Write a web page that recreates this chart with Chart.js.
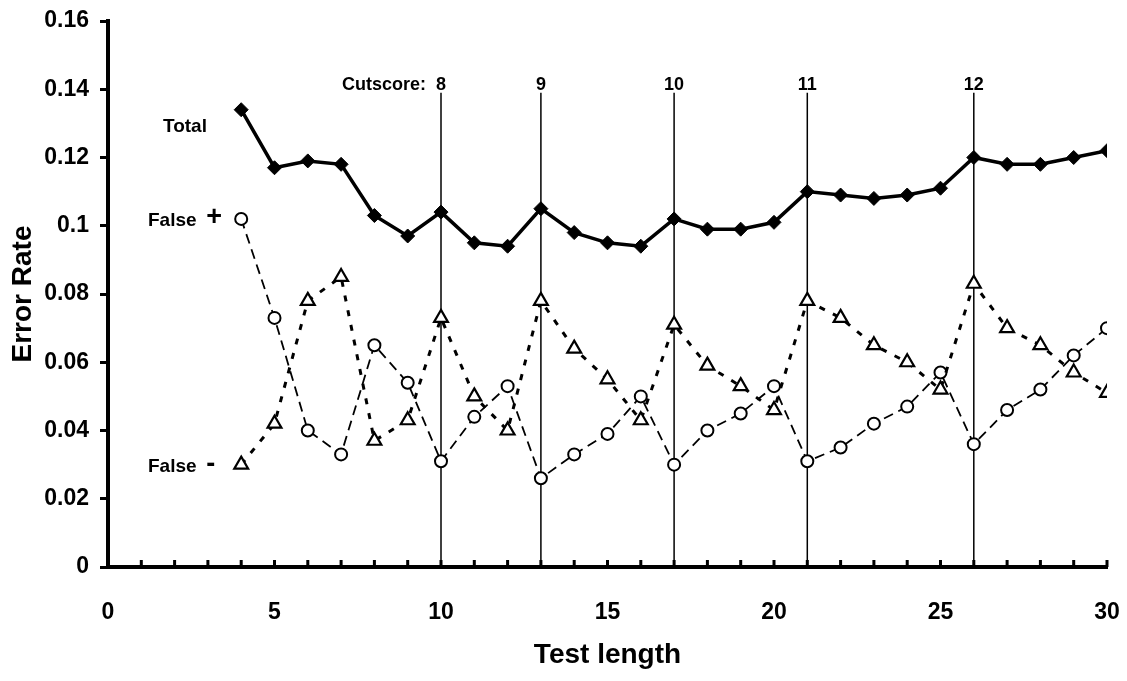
<!DOCTYPE html>
<html>
<head>
<meta charset="utf-8">
<script src="https://cdn.jsdelivr.net/npm/chart.js@4"></script>
<style>
  body { margin: 0; background: #fff; }
  #wrap { width: 1127px; height: 681px; }
</style>
</head>
<body>
<div id="wrap"><canvas id="errChart"></canvas></div>
<script>
// test lengths 4..30
var testLength = [4, 5, 6, 7, 8, 9, 10, 11, 12, 13, 14, 15, 16, 17, 18, 19, 20, 21, 22, 23, 24, 25, 26, 27, 28, 29, 30];

var totalErr = [0.134, 0.117, 0.119, 0.118, 0.103, 0.097, 0.104, 0.095, 0.094, 0.105, 0.098, 0.095, 0.094, 0.102, 0.099, 0.099, 0.101, 0.110, 0.109, 0.108, 0.109, 0.111, 0.120, 0.118, 0.118, 0.120, 0.122];
var falsePos = [0.102, 0.073, 0.040, 0.033, 0.065, 0.054, 0.031, 0.044, 0.053, 0.026, 0.033, 0.039, 0.050, 0.030, 0.040, 0.045, 0.053, 0.031, 0.035, 0.042, 0.047, 0.057, 0.036, 0.046, 0.052, 0.062, 0.070];
var falseNeg = [0.030, 0.042, 0.078, 0.085, 0.037, 0.043, 0.073, 0.050, 0.040, 0.078, 0.064, 0.055, 0.043, 0.071, 0.059, 0.053, 0.046, 0.078, 0.073, 0.065, 0.060, 0.052, 0.083, 0.070, 0.065, 0.057, 0.051];

// cutscore markers
var cutX = [10, 13, 17, 21, 26];
var cutScore = ['8', '9', '10', '11', '12'];
var cutTop = 0.139;

var FONT = '"Liberation Sans", Arial, sans-serif';

function pts(ys) {
    return testLength.map(function (x, i) { return { x: x, y: ys[i] }; });
}

var cutSets = cutX.map(function (x) {
    return {
        label: 'cut' + x,
        data: [{ x: x, y: 0 }, { x: x, y: cutTop }],
        showLine: true,
        borderColor: '#000',
        borderWidth: 1.5,
        pointRadius: 0,
        order: 10
    };
});

var labelsPlugin = {
    id: 'labels',
    afterDatasetsDraw: function (chart) {
        var ctx = chart.ctx;
        var xs = chart.scales.x, ys = chart.scales.y;
        var base = ys.getPixelForValue(0);
        ctx.save();
        ctx.fillStyle = '#000';
        // small inside ticks at each test length
        for (var v = 0; v <= 30; v++) {
            var px = xs.getPixelForValue(v);
            ctx.fillRect(px - 1.5, base - 7, 3, 7);
        }
        ctx.restore();
    },
    afterDraw: function (chart) {
        var ctx = chart.ctx;
        var xs = chart.scales.x, ys = chart.scales.y;
        ctx.save();
        ctx.fillStyle = '#000';
        ctx.textBaseline = 'middle';

        ctx.font = 'bold 18px ' + FONT;
        ctx.textAlign = 'center';
        cutX.forEach(function (x, i) {
            ctx.fillText(cutScore[i], xs.getPixelForValue(x), ys.getPixelForValue(0.1412));
        });
        ctx.textAlign = 'right';
        ctx.fillText('Cutscore:', xs.getPixelForValue(9.55), ys.getPixelForValue(0.1412));

        ctx.textAlign = 'left';
        ctx.font = 'bold 19px ' + FONT;
        ctx.fillText('Total', xs.getPixelForValue(1.65), ys.getPixelForValue(0.129));
        ctx.fillText('False', xs.getPixelForValue(1.2), ys.getPixelForValue(0.1015));
        ctx.fillText('False', xs.getPixelForValue(1.2), ys.getPixelForValue(0.0295));
        ctx.font = 'bold 27px ' + FONT;
        ctx.fillText('+', xs.getPixelForValue(2.95), ys.getPixelForValue(0.1025));
        ctx.fillText('-', xs.getPixelForValue(2.95), ys.getPixelForValue(0.030));
        ctx.restore();
    }
};

var chart = new Chart(document.getElementById('errChart'), {
    type: 'scatter',
    data: {
        datasets: [
            {
                label: 'Total',
                data: pts(totalErr),
                showLine: true,
                borderColor: '#000',
                borderWidth: 3.5,
                pointStyle: 'rectRot',
                pointRadius: 7,
                pointBackgroundColor: '#000',
                pointBorderColor: '#000',
                pointBorderWidth: 1,
                order: 0
            },
            {
                label: 'False +',
                data: pts(falsePos),
                showLine: true,
                borderColor: '#000',
                borderWidth: 1.8,
                borderDash: [10, 6],
                pointStyle: 'circle',
                pointRadius: 6,
                pointBackgroundColor: '#fff',
                pointBorderColor: '#000',
                pointBorderWidth: 2,
                order: 2
            },
            {
                label: 'False -',
                data: pts(falseNeg),
                showLine: true,
                borderColor: '#000',
                borderWidth: 3,
                borderDash: [6, 9],
                pointStyle: 'triangle',
                pointRadius: 8,
                pointBackgroundColor: '#fff',
                pointBorderColor: '#000',
                pointBorderWidth: 2.2,
                order: 1
            }
        ].concat(cutSets)
    },
    options: {
        responsive: true,
        maintainAspectRatio: false,
        animation: false,
        layout: { padding: { top: 21, right: 20, left: 0, bottom: 0 } },
        plugins: {
            legend: { display: false },
            tooltip: { enabled: false }
        },
        scales: {
            x: {
                type: 'linear',
                min: 0,
                max: 30,
                afterFit: function (s) {
                    s.height = 114;
                    s.paddingLeft = 0;
                    s.paddingRight = 0;
                },
                border: { display: true, color: '#000', width: 4 },
                grid: { display: false },
                ticks: {
                    stepSize: 1,
                    autoSkip: false,
                    maxRotation: 0,
                    padding: 24,
                    color: '#000',
                    font: { family: FONT, size: 23, weight: 'bold' },
                    callback: function (v) { return v % 5 === 0 ? String(v) : ''; }
                },
                title: {
                    display: true,
                    text: 'Test length',
                    color: '#000',
                    padding: { top: 0, bottom: 9 },
                    font: { family: FONT, size: 28, weight: 'bold' }
                }
            },
            y: {
                min: 0,
                max: 0.16,
                afterFit: function (s) {
                    s.width = 108;
                    s.paddingTop = 0;
                    s.paddingBottom = 0;
                },
                border: { display: true, color: '#000', width: 4 },
                grid: {
                    drawOnChartArea: false,
                    tickLength: 8,
                    tickWidth: 3,
                    tickColor: '#000'
                },
                ticks: {
                    stepSize: 0.02,
                    padding: 11,
                    color: '#000',
                    font: { family: FONT, size: 23, weight: 'bold' },
                    callback: function (v) { return String(Math.round(v * 100) / 100); }
                },
                title: {
                    display: true,
                    text: 'Error Rate',
                    color: '#000',
                    padding: { top: 6, bottom: 0 },
                    font: { family: FONT, size: 28, weight: 'bold' }
                }
            }
        }
    },
    plugins: [labelsPlugin]
});
</script>
</body>
</html>
